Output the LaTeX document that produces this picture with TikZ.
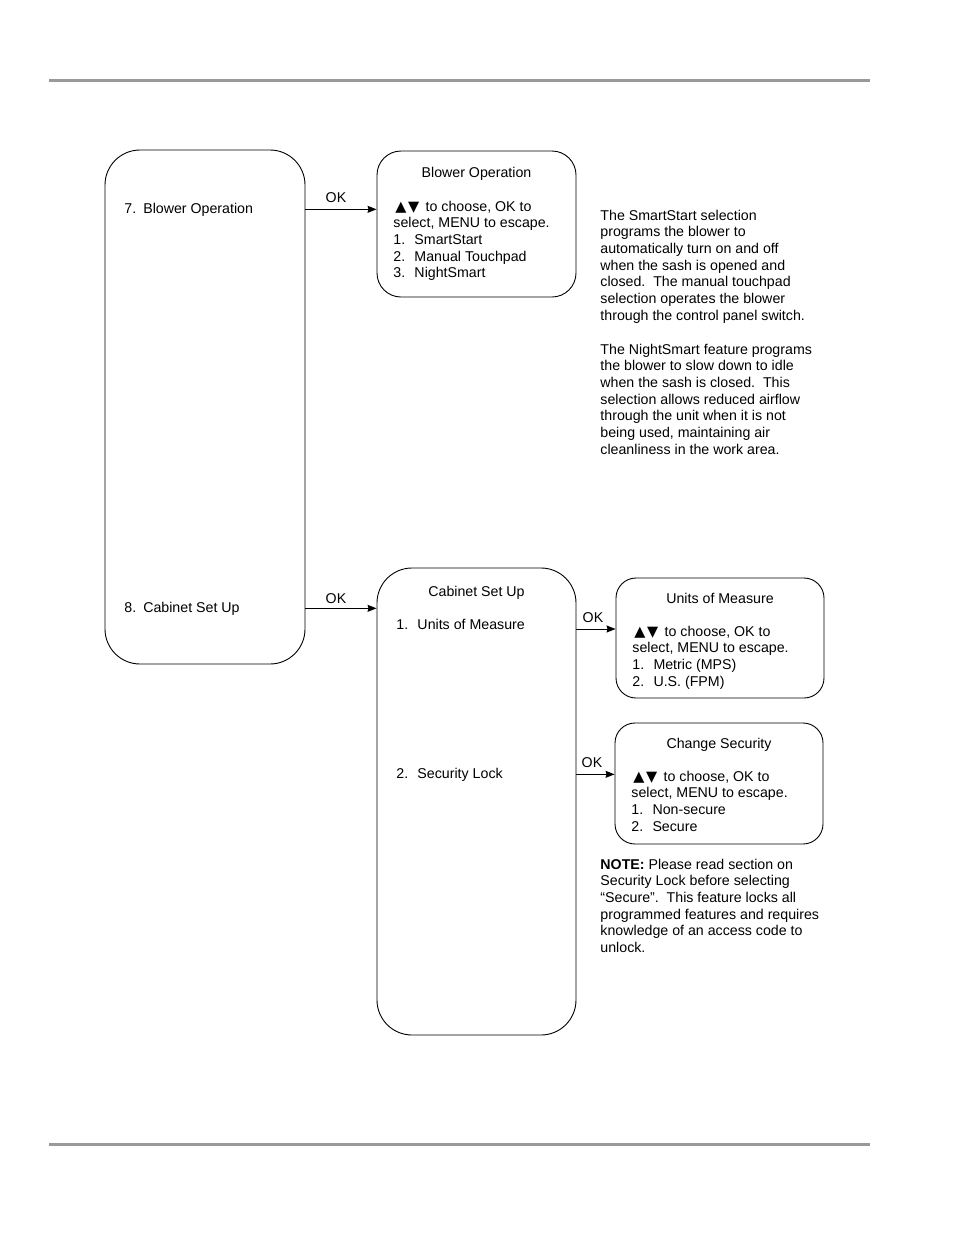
\documentclass[tikz,border=0pt]{standalone}
\usepackage{fontspec}
\setmainfont{Liberation Sans}
\newfontfamily\symfont{DejaVu Sans}
\usepackage{xcolor}
\usetikzlibrary{arrows.meta}
\definecolor{rulegray}{gray}{0.6}
\tikzset{
	menu box/.style={rectangle,draw,line width=0.9pt,rounded corners=#1},
	menu box/.default=20pt,
	item text/.style={anchor=base west,align=left,inner sep=0pt,font=\fontsize{14.2}{16.7}\selectfont},
	box title/.style={anchor=base,inner sep=0pt,font=\fontsize{14.2}{16.7}\selectfont},
	ok label/.style={anchor=base,inner sep=0pt,font=\fontsize{14.2}{16.7}\selectfont}
}
\newcommand{\updown}{\hspace{2pt}{\symfont\fontsize{14.5}{16.7}\selectfont ▲\hspace{1.5pt}▼}\hspace{2.5pt}}

\begin{document}
\begin{tikzpicture}[x=1pt,y=-1pt,->,>={Stealth[length=9pt,width=7pt,inset=1pt]},line width=0.9pt]
      \useasboundingbox (0,0) rectangle (954,1235);
      % page rules
      \draw[-,rulegray,line width=3pt] (49,80) -- (870,80);
      \draw[-,rulegray,line width=3pt] (49,1144) -- (870,1144);

      % menu boxes
      \node[menu box=35pt,minimum width=200pt,minimum height=514pt] (1) at (205,407) {};
      \node[menu box=24pt,minimum width=199pt,minimum height=146pt] (2) at (476.5,224) {};
      \node[menu box=35pt,minimum width=199pt,minimum height=467pt] (3) at (476.5,801.5) {};
      \node[menu box,minimum width=208pt,minimum height=120pt] (4) at (720,638) {};
      \node[menu box,minimum width=208pt,minimum height=121pt] (5) at (719,783.5) {};

      % main menu
      \node[item text] (b7) at (124,213) {7.\hspace{7pt}Blower Operation};
      \node[item text] (b8) at (124,612) {8.\hspace{7pt}Cabinet Set Up};

      % blower operation (multi-line nodes sit on their last line)
      \node[box title] (t2) at (476.5,177) {Blower Operation};
      \node[item text] (l2) at (393,277.8) {\updown\ to choose, OK to\\select, MENU to escape.\\1.~ SmartStart\\2.~ Manual Touchpad\\3.~ NightSmart};

      % cabinet set up
      \node[box title] (t3) at (476.5,596) {Cabinet Set Up};
      \node[item text] (u1) at (396,629) {1.~ Units of Measure};
      \node[item text] (s2) at (396,778) {2.~ Security Lock};

      % units of measure
      \node[box title] (t4) at (720,603) {Units of Measure};
      \node[item text] (l4) at (632,686.1) {\updown\ to choose, OK to\\select, MENU to escape.\\1.~ Metric (MPS)\\2.~ U.S. (FPM)};

      % change security
      \node[box title] (t5) at (719,748) {Change Security};
      \node[item text] (l5) at (631,831.1) {\updown\ to choose, OK to\\select, MENU to escape.\\1.~ Non-secure\\2.~ Secure};

      % notes
      \node[item text] (n1) at (600,320.2) {The SmartStart selection\\programs the blower to\\automatically turn on and off\\when the sash is opened and\\closed.\ \ The manual touchpad\\selection operates the blower\\through the control panel switch.};
      \node[item text] (n2) at (600,454.2) {The NightSmart feature programs\\the blower to slow down to idle\\when the sash is closed.\ \ This\\selection allows reduced airflow\\through the unit when it is not\\being used, maintaining air\\cleanliness in the work area.};
      \node[item text] (n3) at (600,952.5) {\textbf{NOTE:} Please read section on\\Security Lock before selecting\\“Secure”.\ \ This feature locks all\\programmed features and requires\\knowledge of an access code to\\unlock.};

      % OK labels
      \node[ok label] (ok1) at (336,202) {OK};
      \node[ok label] (ok2) at (336,603) {OK};
      \node[ok label] (ok3) at (593,622) {OK};
      \node[ok label] (ok4) at (592,767) {OK};

      \path[]
        (1.east |- b7) edge (2.west |- b7)
        (1.east |- b8) edge (3.west |- b8)
        (3.east |- u1.base) edge (4.west |- u1.base)
        (3.east |- s2) edge (5.west |- s2);
\end{tikzpicture}
\end{document}
